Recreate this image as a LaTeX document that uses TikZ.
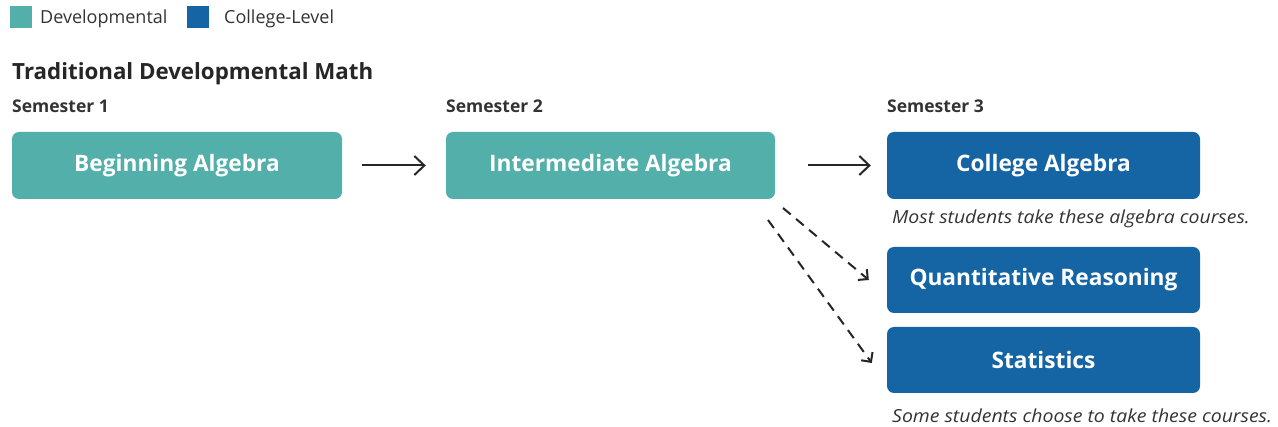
\documentclass[tikz,border=0pt]{standalone}
\usepackage{fontspec}
\setmainfont{Open Sans}
\newfontfamily\notefont{Open Sans}[FakeStretch=1.08]
\usetikzlibrary{arrows.meta}
\definecolor{dev}{HTML}{52AFA9}
\definecolor{coll}{HTML}{1565A5}
\definecolor{txt}{HTML}{333333}
\tikzset{
  course/.style={rounded corners=7pt, text=white, font=\fontsize{22.7}{26}\selectfont\bfseries, inner sep=0pt},
  devbox/.style={course, fill=dev},
  collbox/.style={course, fill=coll},
  semlabel/.style={anchor=base west, text=txt, font=\fontsize{17.5}{20}\selectfont\bfseries, inner sep=0pt},
  note/.style={anchor=base west, text=txt, font=\notefont\fontsize{18}{21}\selectfont\itshape, inner sep=0pt},
  legtxt/.style={anchor=base west, text=txt, font=\fontsize{18}{21}\selectfont, inner sep=0pt},
  flow/.style={-{Straight Barb[length=10pt,width=19pt]}, line width=2pt, black!85},
  opt/.style={-{Straight Barb[length=7pt,width=14pt]}, line width=2pt, black!85, dash pattern=on 10pt off 7pt}
}
\begin{document}
\begin{tikzpicture}[x=1pt,y=-1pt]
\useasboundingbox (0,0) rectangle (1278,427);
% legend
\node[fill=dev, minimum size=22pt, inner sep=0pt] (ld) at (21,17.5) {};
\node[legtxt] (ldt) at (40,24) {Developmental};
\node[fill=coll, minimum size=22pt, inner sep=0pt] (lc) at (198,17.5) {};
\node[legtxt] (lct) at (224,24) {College-Level};
% title
\node[anchor=base west, text=black!85, font=\fontsize{22.3}{26}\selectfont\bfseries, inner sep=0pt] (title) at (12,80) {Traditional Developmental Math};
% semesters
\node[semlabel] (s1) at (12,113) {Semester 1};
\node[semlabel] (s2) at (446,113) {Semester 2};
\node[semlabel] (s3) at (887,113) {Semester 3};
% boxes
\node[devbox, minimum width=330pt, minimum height=67pt] (ba) at (177,165.5) {Beginning Algebra};
\node[devbox, minimum width=329pt, minimum height=67pt] (ia) at (610.5,165.5) {Intermediate Algebra};
\node[collbox, minimum width=313pt, minimum height=67pt] (ca) at (1043.5,165.5) {College Algebra};
\node[collbox, minimum width=313pt, minimum height=66pt] (qr) at (1043.5,280) {Quantitative Reasoning};
\node[collbox, minimum width=313pt, minimum height=66pt] (st) at (1043.5,360) {Statistics};
% notes
\node[note] (n1) at (892,224) {Most students take these algebra courses.};
\node[note] (n2) at (892,423) {Some students choose to take these courses.};
% arrows
\draw[flow] ([xshift=20pt]ba.east) -- ([xshift=-20pt]ia.west);
\draw[flow] ([xshift=33pt]ia.east) -- ([xshift=-16pt]ca.west);
\coordinate (d1s) at (783,208);
\coordinate (d2s) at (768,220);
\draw[opt] (d1s) -- ([xshift=-18pt,yshift=0pt]qr.west);
\draw[opt] (d2s) -- ([xshift=-15pt,yshift=-3pt]st.west);
\end{tikzpicture}
\end{document}
